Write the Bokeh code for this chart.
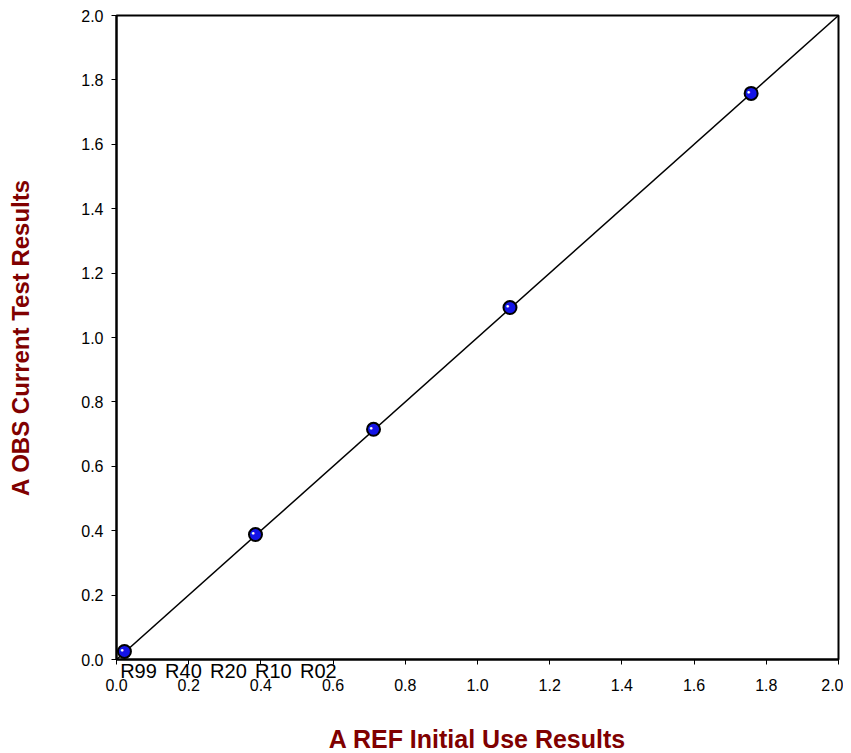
from bokeh.plotting import figure
from bokeh.models import FixedTicker, Range1d, NumeralTickFormatter, LinearAxis
from bokeh.embed import file_html
from bokeh.resources import INLINE

# data
ref_values = [0.022, 0.385, 0.712, 1.09, 1.758]
obs_values = [0.025, 0.388, 0.715, 1.093, 1.758]
sample_labels = ["R99", "R40", "R20", "R10", "R02"]
identity_x = [0.0, 2.0]
identity_y = [0.0, 2.0]
ticks = [0.0, 0.2, 0.4, 0.6, 0.8, 1.0, 1.2, 1.4, 1.6, 1.8, 2.0]

FONT = "Liberation Sans"
TITLE_COLOR = "#800000"

# label row under the axis: first label centre and spacing (in x-data units)
label_start, label_step = 0.061, 0.1245
label_pos = [round(label_start + i * label_step, 4) for i in range(len(sample_labels))]

p = figure(frame_width=722, frame_height=644, output_backend="svg", toolbar_location=None,
           x_range=Range1d(0, 2), y_range=Range1d(0, 2),
           min_border_left=116, min_border_right=5, min_border_top=15, min_border_bottom=60)
p.grid.visible = False
p.outline_line_color = "black"
p.outline_line_width = 2
p.background_fill_color = "white"
p.border_fill_color = "white"

# y axis
ya = p.yaxis[0]
ya.ticker = FixedTicker(ticks=ticks)
ya.formatter = NumeralTickFormatter(format="0.0")
ya.minor_tick_line_color = None
ya.major_tick_out = 5
ya.major_tick_in = 0
ya.major_tick_line_color = "black"
ya.axis_line_color = "black"
ya.axis_line_width = 2
ya.major_label_text_font = FONT
ya.major_label_text_font_size = "16px"
ya.major_label_text_color = "black"
ya.major_label_standoff = 8
ya.axis_label = "A OBS Current Test Results"
ya.axis_label_text_font = FONT
ya.axis_label_text_font_size = "24px"
ya.axis_label_text_font_style = "bold"
ya.axis_label_text_color = TITLE_COLOR
ya.axis_label_standoff = 44

# near x axis: axis line, tick marks (as minor ticks), sample labels
xa = p.xaxis[0]
xa.ticker = FixedTicker(ticks=label_pos, minor_ticks=ticks)
xa.major_label_overrides = {pos: lab for pos, lab in zip(label_pos, sample_labels)}
xa.major_tick_line_color = None
xa.major_tick_out = 0
xa.major_tick_in = 0
xa.minor_tick_line_color = "black"
xa.minor_tick_out = 5
xa.minor_tick_in = 0
xa.axis_line_color = "black"
xa.axis_line_width = 2
xa.major_label_text_font = FONT
xa.major_label_text_font_size = "20px"
xa.major_label_text_color = "black"
xa.major_label_standoff = -5

# far x axis: numeric tick labels and title
xb = LinearAxis(ticker=FixedTicker(ticks=ticks), formatter=NumeralTickFormatter(format="0.0"))
xb.axis_line_color = None
xb.major_tick_line_color = None
xb.minor_tick_line_color = None
xb.major_tick_out = 0
xb.major_tick_in = 0
xb.major_label_text_font = FONT
xb.major_label_text_font_size = "16px"
xb.major_label_text_color = "black"
xb.major_label_standoff = -6
xb.axis_label = "A REF Initial Use Results"
xb.axis_label_text_font = FONT
xb.axis_label_text_font_size = "25px"
xb.axis_label_text_font_style = "bold"
xb.axis_label_text_color = TITLE_COLOR
xb.axis_label_standoff = 31
p.add_layout(xb, "below")

p.line(identity_x, identity_y, line_color="black", line_width=1.5)
p.scatter(ref_values, obs_values, size=13, fill_color="#1414e6", line_color="black", line_width=2)
p.text(ref_values, obs_values, text=["\u25cf"] * len(ref_values), x_offset=-2.5, y_offset=-1.5,
       text_font_size="6px", text_color="white", text_align="center", text_baseline="middle")

open("out.html", "w").write(file_html(p, INLINE))
